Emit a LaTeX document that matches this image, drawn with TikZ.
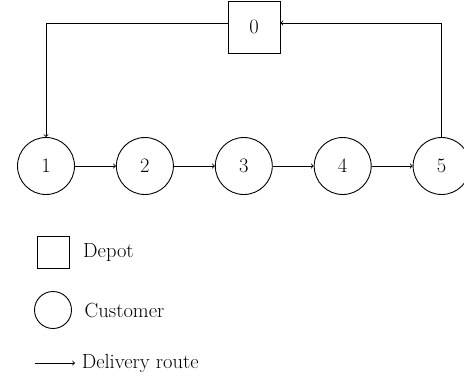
\documentclass[tikz,border=0pt]{standalone}
\usetikzlibrary{positioning}
\tikzset{cust node/.style={circle, draw, minimum size=57pt, inner sep=0pt},
depot node/.style={rectangle, draw, minimum size=52pt, inner sep=0pt},}

\begin{document}
\begin{tikzpicture}[x=1pt, y=-1pt, line width=0.9pt, every node/.style={font=\fontsize{20.5}{24}\selectfont}]
        \useasboundingbox (0,0) rectangle (464,381);
        % Depot and customers
        \node[depot node] (0) at (254,27) {0};
        \node[cust node] (1) at (46,166) {1};
        \node[cust node] [right = 41pt of 1] (2) {2};
        \node[cust node] [right = 41pt of 2] (3) {3};
        \node[cust node] [right = 41pt of 3] (4) {4};
        \node[cust node] [right = 41pt of 4] (5) {5};
        % Route
        \path[draw,->]
        (1) edge (2)
        (2) edge (3)
        (3) edge (4)
        (4) edge (5);
        \draw[->] ([yshift=4pt]0.west) -| (1.north);
        \draw[->] (5.north) |- ([yshift=4pt]0.east);
        % Legend
        \node[depot node, minimum size=32pt] (d) at (53,252) {};
        \node[right = 10pt of d] (dtext) {Depot};
        \node[cust node, minimum size=37pt] (c) at (53,310) {};
        \node[right = 9pt of c] (ctext) {Customer};
        \coordinate (a1) at (35,363);
        \coordinate (a2) at (75,363);
        \draw[->] (a1) -- (a2);
        \node[right = 3pt of a2] (atext) {Delivery route};
    \end{tikzpicture}
\end{document}
